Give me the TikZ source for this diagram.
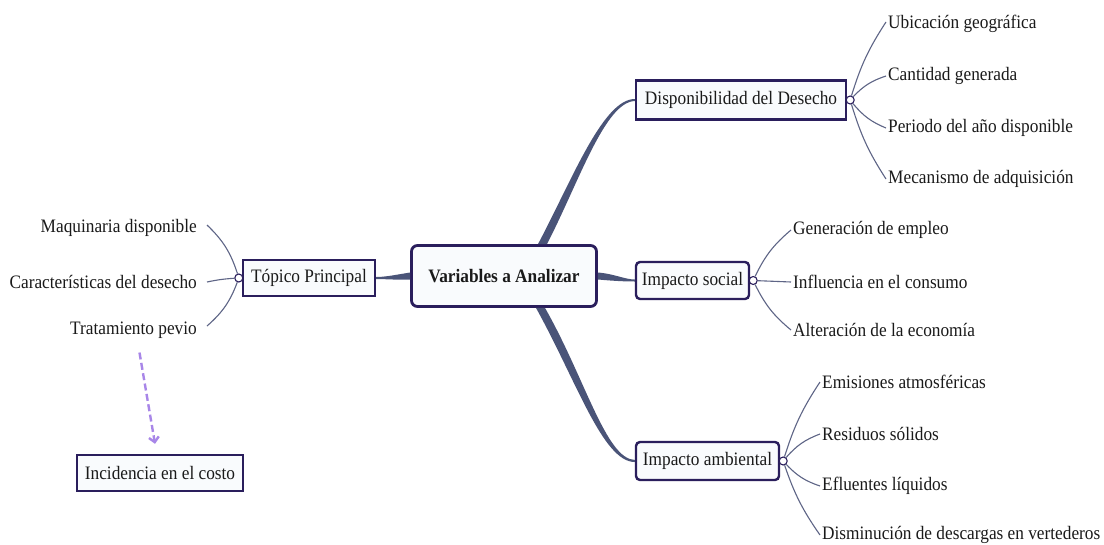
\documentclass[tikz,border=0pt]{standalone}
\usepackage{fontspec}
\setmainfont[FakeStretch=0.91]{Liberation Serif}
\usetikzlibrary{arrows.meta, calc}

\definecolor{boxline}{HTML}{2A1E5C}
\definecolor{boxfill}{HTML}{F9FBFD}
\definecolor{limbcol}{HTML}{4A5478}
\definecolor{twigcol}{HTML}{5E6586}
\definecolor{costcol}{HTML}{A886E8}
\definecolor{inkcol}{HTML}{1A1A1A}

\begin{document}
\begin{tikzpicture}[x=1pt, y=-1pt,
  every node/.style={font=\fontsize{19}{22}\selectfont, text=inkcol},
  topic/.style={draw=boxline, line width=2.4pt, fill=boxfill, inner sep=0pt},
  leaf/.style={inner sep=2pt},
  leftleaf/.style={inner xsep=10pt, inner ysep=2pt},
  knob/.style={circle, draw=boxline, fill=white, line width=1.1pt, minimum size=8pt, inner sep=0pt},
  twig/.style={draw=twigcol, line width=1.1pt},
  limb/.style={fill=limbcol}]
  \useasboundingbox[fill=white] (0,0) rectangle (1104,544);

  % Central topic
  \node[topic, rounded corners=6pt, line width=2.8pt, minimum width=185pt, minimum height=61pt,
        font=\fontsize{19}{22}\selectfont\bfseries] (var) at (504,276) {Variables a Analizar};

  % Main branches
  \node[topic, minimum width=132pt, minimum height=36pt] (top) at (309,278) {Tópico Principal};
  \node[topic, minimum width=210pt, minimum height=39pt] (dispo) at (741,100) {Disponibilidad del Desecho};
  \node[topic, rounded corners=4pt, minimum width=113pt, minimum height=37pt] (social) at (692.5,280.5) {Impacto social};
  \node[topic, rounded corners=4pt, minimum width=143pt, minimum height=38pt] (amb) at (707.5,461) {Impacto ambiental};
  \node[topic, minimum width=166pt, minimum height=36pt] (incid) at (160,473) {Incidencia en el costo};

  % Tapered limbs from the centre
  \fill[limb] ($(var.west)+(0,-3.5)$) .. controls (395,275) and (385,277) .. ($(top.east)+(0,-1)$)
    -- ($(top.east)+(0,1)$) .. controls (385,279) and (395,280) .. ($(var.west)+(0,3.5)$) -- cycle;
  \fill[limb] ($(var.east)+(0,-3.5)$) .. controls (615,274) and (625,279.5) .. ($(social.west)+(0,-1)$)
    -- ($(social.west)+(0,1)$) .. controls (625,281.5) and (615,281) .. ($(var.east)+(0,3.5)$) -- cycle;
  \fill[limb] ($(var.north)+(34,0)$) .. controls (572,180) and (603,99) .. ($(dispo.west)+(0,-1)$)
    -- ($(dispo.west)+(0,1)$) .. controls (605,102) and (579,182) .. ($(var.north)+(43,0)$) -- cycle;
  \fill[limb] ($(var.south)+(32,0)$) .. controls (577,382) and (603,462) .. ($(amb.west)+(0,1)$)
    -- ($(amb.west)+(0,-1)$) .. controls (606,459) and (585,378) .. ($(var.south)+(41,0)$) -- cycle;

  % Knobs
  \node[knob] (topk) at ($(top.west)+(-3,0)$) {};
  \node[knob] (dispk) at ($(dispo.east)+(3,0)$) {};
  \node[knob] (socialk) at ($(social.east)+(3,0)$) {};
  \node[knob] (ambk) at ($(amb.east)+(3,0)$) {};

  % Leaves of Tópico Principal
  \node[leftleaf, anchor=east] (maq) at (207,228) {Maquinaria disponible};
  \node[leftleaf, anchor=east] (carac) at (207,282) {Características del desecho};
  \node[leftleaf, anchor=east] (trat) at (207,330) {Tratamiento pevio};
  \draw[twig] (topk) to[bend right=14] ($(maq.east)+(0,-3)$);
  \draw[twig] (topk) to[bend right=4] (carac.east);
  \draw[twig] (topk) to[bend left=14] ($(trat.east)+(0,-4)$);

  % Leaves of Disponibilidad del Desecho
  \node[leaf, anchor=west] (ubic) at (886,24) {Ubicación geográfica};
  \node[leaf, anchor=west] (cant) at (886,76) {Cantidad generada};
  \node[leaf, anchor=west] (peri) at (886,128) {Periodo del año disponible};
  \node[leaf, anchor=west] (meca) at (886,179) {Mecanismo de adquisición};
  \draw[twig] (dispk) to[bend left=8] ($(ubic.west)+(0,-2)$);
  \draw[twig] (dispk) to[bend left=14] (cant.west);
  \draw[twig] (dispk) to[bend right=14] (peri.west);
  \draw[twig] (dispk) to[bend right=8] (meca.west);

  % Leaves of Impacto social
  \node[leaf, anchor=west] (empl) at (791,230) {Generación de empleo};
  \node[leaf, anchor=west] (cons) at (791,282) {Influencia en el consumo};
  \node[leaf, anchor=west] (econ) at (791,330) {Alteración de la economía};
  \draw[twig] (socialk) to[bend left=12] (empl.west);
  \draw[twig] (socialk) -- (cons.west);
  \draw[twig] (socialk) to[bend right=12] (econ.west);

  % Leaves of Impacto ambiental
  \node[leaf, anchor=west] (emis) at (820,382) {Emisiones atmosféricas};
  \node[leaf, anchor=west] (resi) at (820,434) {Residuos sólidos};
  \node[leaf, anchor=west] (eflu) at (820,486) {Efluentes líquidos};
  \node[leaf, anchor=west] (dism) at (820,535) {Disminución de descargas en vertederos};
  \draw[twig] (ambk) to[bend left=8] (emis.west);
  \draw[twig] (ambk) to[bend left=14] (resi.west);
  \draw[twig] (ambk) to[bend right=14] (eflu.west);
  \draw[twig] (ambk) to[bend right=8] (dism.west);

  % Dashed link to the cost
  \draw[costcol, line width=2.4pt, dash pattern=on 7pt off 3.5pt, -{Straight Barb[length=5pt, width=10pt]}]
    ($(trat.south)+(6,12)$) -- ($(incid.north)+(-5,-10)$);
\end{tikzpicture}
\end{document}
